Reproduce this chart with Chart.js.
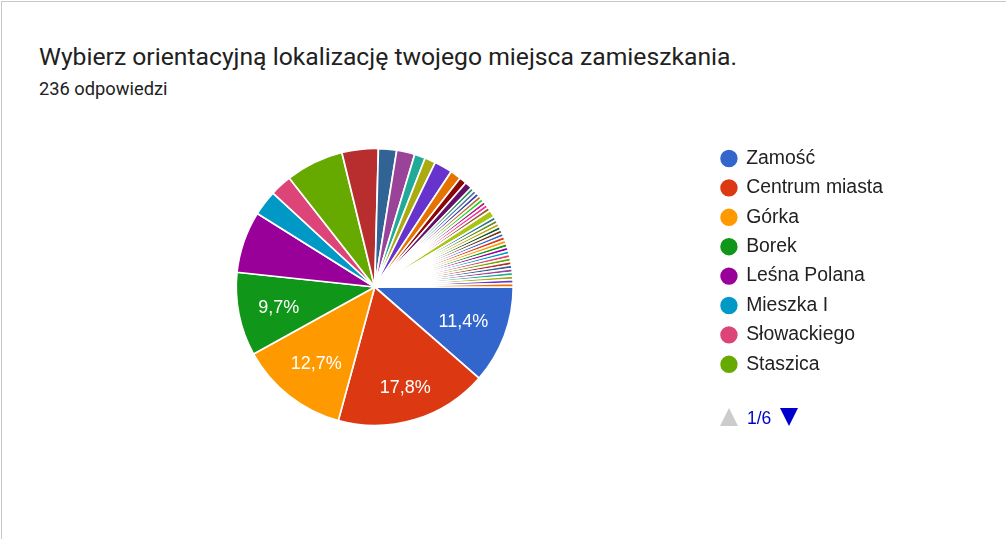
<!DOCTYPE html>
<html lang="pl">
<head>
<meta charset="utf-8">
<title>Wybierz orientacyjną lokalizację</title>
<script src="https://cdn.jsdelivr.net/npm/chart.js@4"></script>
<style>
  html, body { margin: 0; padding: 0; background: #fff; overflow: hidden; }
  #page { position: relative; width: 1006px; height: 539px; box-sizing: border-box; }
  #frame { position: absolute; left: 1px; top: 1px; right: 0; bottom: -2px; border: 1px solid #c8c8c8; border-width: 1px 0 0 1px; }
  #tytul { position: absolute; left: 39px; top: 42px; font: 400 24.7px Roboto, sans-serif; color: #212121; white-space: nowrap; }
  #odp { position: absolute; left: 39px; top: 78px; font: 400 18.3px Roboto, sans-serif; color: #212121; white-space: nowrap; }
  #myChart { position: absolute; left: 0; top: 0; }
  #strona { position: absolute; left: 747px; top: 408px; font: 400 17.5px "Liberation Sans", Arial, sans-serif; color: #0000cc; }
  .tri { position: absolute; top: 408px; width: 0; height: 0; border-left: 9px solid transparent; border-right: 9px solid transparent; }
  #gora { left: 720px; border-bottom: 18px solid #cccccc; }
  #dol { left: 780px; border-top: 18px solid #0000cc; }
</style>
</head>
<body>
<div id="page">
  <div id="frame"></div>
  <div id="tytul"></div>
  <div id="odp"></div>
  <canvas id="myChart" width="1006" height="539"></canvas>
  <div class="tri" id="gora"></div>
  <div id="strona"></div>
  <div class="tri" id="dol"></div>
</div>
<script>
const title = 'Wybierz orientacyjną lokalizację twojego miejsca zamieszkania.';
const subtitle = '236 odpowiedzi';
const pager = '1/6';

// widoczne w legendzie (strona 1/6), reszta nazw nie jest czytelna na obrazku
const categories = ['Zamość', 'Centrum miasta', 'Górka', 'Borek', 'Leśna Polana', 'Mieszka I', 'Słowackiego', 'Staszica'];

const values = [27, 42, 30, 23, 17, 7, 6, 16, 10, 5, 5, 3, 3, 5, 3, 2, 2,
                1, 1, 1, 1, 1, 1, 1, 1, 2, 1, 1, 1, 1, 1,
                1, 1, 1, 1, 1, 1, 1, 1, 1, 1, 1, 1, 1, 1, 1];

const palette = ['#3366cc', '#dc3912', '#ff9900', '#109618', '#990099', '#0099c6', '#dd4477', '#66aa00',
                 '#b82e2e', '#316395', '#994499', '#22aa99', '#aaaa11', '#6633cc', '#e67300', '#8b0707',
                 '#651067', '#329262', '#5574a6', '#3b3eac', '#b77322', '#16d620', '#b91383', '#f4359e',
                 '#9c5935', '#a9c413', '#2a778d', '#668d1c', '#bea413', '#0c5922', '#743411'];

const sliceColors = values.map((v, i) => palette[i % palette.length]);
const total = values.reduce((a, b) => a + b, 0);

document.getElementById('tytul').textContent = title;
document.getElementById('odp').textContent = subtitle;
document.getElementById('strona').textContent = pager;

// procenty na najwiekszych wycinkach
const sliceLabels = {
    id: 'sliceLabels',
    afterDatasetsDraw(chart) {
        const ctx = chart.ctx;
        const arcs = chart.getDatasetMeta(0).data;
        const radial = [0.68, 0.75, 0.69, 0.71];
        ctx.save();
        ctx.fillStyle = '#fff';
        ctx.font = '18px "Liberation Sans", Arial, sans-serif';
        ctx.textAlign = 'center';
        ctx.textBaseline = 'middle';
        arcs.forEach((arc, i) => {
            if (i > 3) return;
            const mid = (arc.startAngle + arc.endAngle) / 2;
            const r = arc.outerRadius * radial[i];
            const txt = (values[i] / total * 100).toFixed(1).replace('.', ',') + '%';
            ctx.fillText(txt, arc.x + Math.cos(mid) * r + 0.5, arc.y + Math.sin(mid) * r + 1.5);
        });
        ctx.restore();
    }
};

const myChart = new Chart(document.getElementById('myChart'), {
    type: 'pie',
    data: {
        labels: categories,
        datasets: [{
            data: values,
            backgroundColor: sliceColors,
            borderColor: '#ffffff',
            borderWidth: 1.7,
            radius: 138.5
        }]
    },
    plugins: [sliceLabels],
    options: {
        responsive: false,
        animation: false,
        rotation: 90,
        layout: { padding: { left: 38, right: 113, top: 138.8, bottom: 103.8 } },
        plugins: {
            tooltip: { enabled: false },
            legend: {
                position: 'right',
                align: 'start',
                labels: {
                    usePointStyle: true,
                    pointStyle: 'circle',
                    boxWidth: 15,
                    boxHeight: 13.5,
                    padding: 10,
                    color: '#222222',
                    font: { size: 19.4, family: '"Liberation Sans", Arial, sans-serif' }
                }
            }
        }
    }
});
</script>
</body>
</html>
